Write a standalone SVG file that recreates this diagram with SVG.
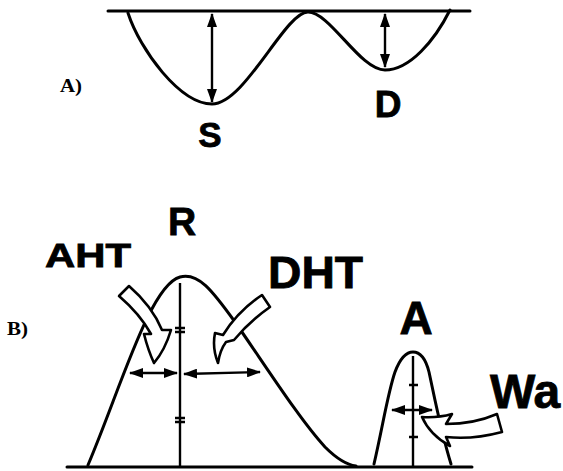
<svg xmlns="http://www.w3.org/2000/svg" width="563" height="471" viewBox="0 0 563 471">
<style>
.ln{fill:none;stroke:#000;stroke-width:3;stroke-linecap:round;stroke-linejoin:round}
.thin{fill:none;stroke:#000;stroke-width:2.4}
.hollow{fill:#fff;stroke:#000;stroke-width:2.6;stroke-linejoin:round}
.lbl{font-family:"Liberation Sans",Arial,sans-serif;font-weight:bold;fill:#000;stroke:#000;stroke-width:0.8}
.pl{font-family:"Liberation Serif","Times New Roman",serif;font-weight:bold;fill:#000;font-size:18px}
</style>
<defs>
<marker id="ah" viewBox="0 0 14 10" refX="13" refY="5" markerWidth="14" markerHeight="10" markerUnits="userSpaceOnUse" orient="auto-start-reverse">
<path d="M0,0 L14,5 L0,10 Z" fill="#000"/>
</marker>
</defs>

<g id="panelA">
<line x1="108" y1="11" x2="470" y2="11" class="ln"/>
<path class="ln" d="M128,13 C140,50 180,104 212,104 C245,104 285,12 308,12 C330,12 360,70 385,70 C410,70 435,40 450,10"/>
<text class="pl" x="60" y="92" textLength="22" lengthAdjust="spacingAndGlyphs">A)</text>
</g>

<g id="S">
<text class="lbl" x="210" y="147" font-size="35" text-anchor="middle">S</text>
</g>
<g id="D">
<text class="lbl" x="388" y="117" font-size="37" text-anchor="middle">D</text>
</g>

<g id="panelB">
<line x1="67" y1="467" x2="472" y2="467" class="ln"/>
<text class="pl" x="7" y="335" textLength="21" lengthAdjust="spacingAndGlyphs">B)</text>
</g>

<g id="R">
<path class="ln" d="M88,465 C120,390 150,285 180,277 C198,272 212,290 235,322 C265,365 300,420 325,447 C338,460 348,465 356,466"/>
<line class="thin" x1="180" y1="283" x2="180" y2="466"/>
<path class="thin" d="M175,328 H185 M175,332 H185 M175,418 H185 M175,422 H185"/>
<text class="lbl" x="182" y="235" font-size="39" text-anchor="middle">R</text>
</g>

<g id="AHT">
<text class="lbl" x="45" y="267" font-size="34" textLength="86" lengthAdjust="spacingAndGlyphs">AHT</text>
<path class="hollow" d="M119,296 L129,286 Q152,306 162,330 L171,330 Q165,350 154,363 Q148,350 144,334 L151,334 Q140,314 119,296 Z"/>
</g>

<g id="DHT">
<text class="lbl" x="268" y="288" font-size="45" textLength="95" lengthAdjust="spacingAndGlyphs">DHT</text>
<path class="hollow" d="M262,295 L270,307 Q250,321 234,340 L226,342 Q220,350 218,363 Q212,348 215,333 L223,335 Q238,311 262,295 Z"/>
</g>

<g id="A">
<path class="ln" d="M374,464 C383,425 388,392 395,372 C401,356 407,352 413,352 C419,352 425,356 429,372 C434,395 441,432 451,464"/>
<line class="thin" x1="413" y1="356" x2="413" y2="466"/>
<path class="thin" d="M409,385 H418 M409,437 H418"/>
<text class="lbl" x="416" y="334" font-size="46" text-anchor="middle">A</text>
</g>

<g id="Wa">
<text class="lbl" x="490" y="408" font-size="48">Wa</text>
<path class="hollow" d="M502,432 Q472,440 446,437 L450,446 Q430,435 422,417 Q438,418 452,414 L446,424 Q474,424 497,414 Z"/>
</g>

<g id="connectors">
<line class="thin" x1="212" y1="14" x2="212" y2="102" marker-start="url(#ah)" marker-end="url(#ah)"/>
<line class="thin" x1="385" y1="14" x2="385" y2="67" marker-start="url(#ah)" marker-end="url(#ah)"/>
<line class="thin" x1="130" y1="373" x2="177" y2="373" marker-start="url(#ah)" marker-end="url(#ah)"/>
<line class="thin" x1="184" y1="374" x2="260" y2="372" marker-start="url(#ah)" marker-end="url(#ah)"/>
<line class="thin" x1="392" y1="410" x2="432" y2="410" marker-start="url(#ah)" marker-end="url(#ah)"/>
</g>
</svg>
